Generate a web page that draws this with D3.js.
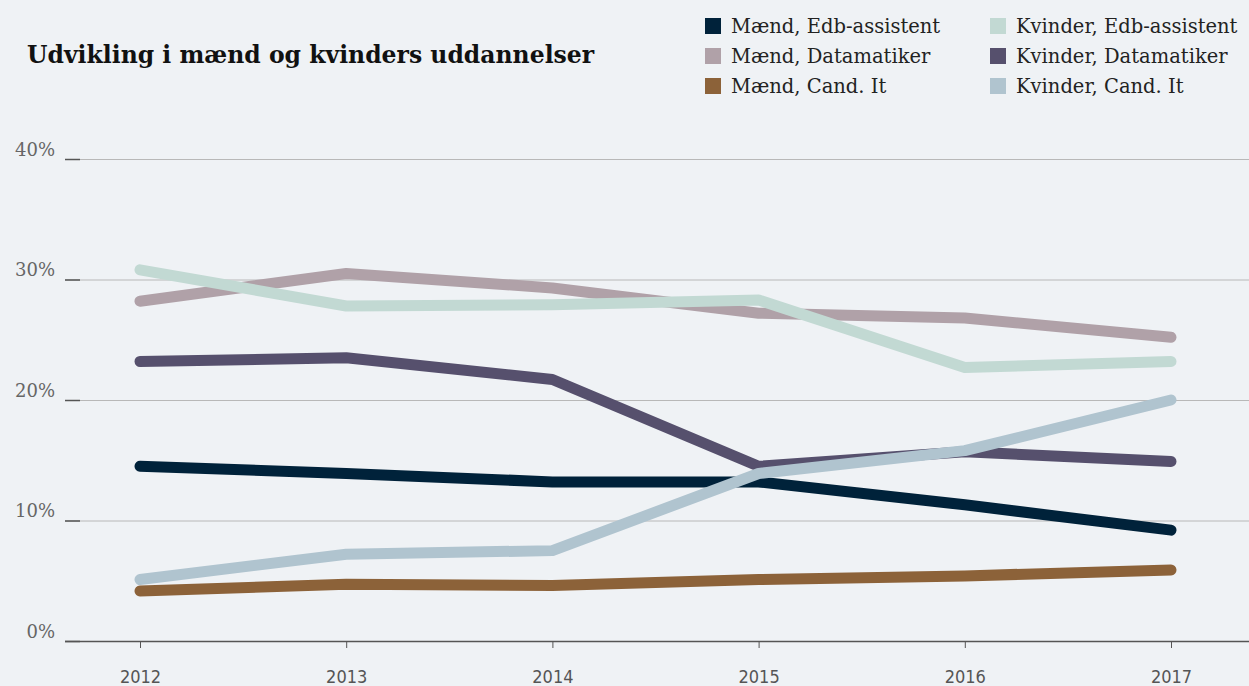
<!DOCTYPE html>
<html>
<head>
<meta charset="utf-8">
<script src="https://cdn.jsdelivr.net/npm/d3@7"></script>
<style>
  html, body { margin: 0; padding: 0; background: #eff2f5; }
  svg { display: block; }
</style>
</head>
<body>
<div id="d3-container"></div>
<script>
const years = [2012, 2013, 2014, 2015, 2016, 2017];
const seriesNames = [
  "Mænd, Edb-assistent", "Mænd, Datamatiker", "Mænd, Cand. It",
  "Kvinder, Edb-assistent", "Kvinder, Datamatiker", "Kvinder, Cand. It"
];
const maendEdb = [14.5, 13.9, 13.2, 13.2, 11.3, 9.2];
const maendDatamatiker = [28.2, 30.5, 29.3, 27.2, 26.8, 25.2];
const maendCandIt = [4.15, 4.7, 4.6, 5.1, 5.4, 5.9];
const kvinderEdb = [30.8, 27.8, 27.9, 28.3, 22.7, 23.2];
const kvinderDatamatiker = [23.2, 23.5, 21.7, 14.5, 15.7, 14.9];
const kvinderCandIt = [5.1, 7.2, 7.5, 13.9, 15.8, 20.0];
const yTicks = [0, 10, 20, 30, 40];
const colors = ["#00223a", "#b0a1a8", "#8c6239", "#c2d9d3", "#56506d", "#b0c4cf"];

const values = [maendEdb, maendDatamatiker, maendCandIt, kvinderEdb, kvinderDatamatiker, kvinderCandIt];
const series = seriesNames.map((name, i) => ({
  name: name,
  color: colors[i],
  points: years.map((yr, j) => ({ year: yr, value: values[i][j] }))
}));

const width = 1249;
const height = 686;
const margin = { top: 159, bottom: 45, left: 65, right: 0 };
const title = "Udvikling i mænd og kvinders uddannelser";
const serif = "'DejaVu Serif', serif";

const svg = d3.select('#d3-container')
  .append('svg')
  .attr('width', width)
  .attr('height', height)
  .style('background', '#eff2f5');

const x = d3.scaleLinear()
  .domain([2012, 2017])
  .range([140, 1171]);

const y = d3.scaleLinear()
  .domain([0, 40])
  .range([height - margin.bottom, margin.top]);

// y axis + gridlines
function yAxis(g) {
  g.attr("transform", `translate(${margin.left}, 0)`)
    .call(d3.axisLeft(y).tickValues(yTicks).tickSize(-(width - margin.left)).tickFormat(d => d + "%"))
    .call(g => g.select(".domain").remove())
    .call(g => g.selectAll(".tick line")
      .attr("stroke", d => d === 0 ? "#555" : "#b8b8b8")
      .attr("stroke-width", d => d === 0 ? 1.5 : 1))
    .call(g => g.selectAll(".tick").append("line")
      .attr("x1", 0).attr("x2", 15)
      .attr("stroke", "#555").attr("stroke-width", 1.5))
    .call(g => g.selectAll(".tick text")
      .attr("x", -10)
      .attr("dy", "-0.2em")
      .attr("fill", "#666")
      .style("font-family", serif)
      .style("font-weight", "300")
      .style("font-size", "18px"));
}

function xAxis(g) {
  g.attr("transform", `translate(0,${height - margin.bottom})`)
    .call(d3.axisBottom(x).tickValues(years).tickFormat(d3.format("d")).tickSize(7))
    .call(g => g.select(".domain").remove())
    .call(g => g.selectAll(".tick line").attr("stroke", "#555"))
    .call(g => g.selectAll(".tick text")
      .attr("y", 29)
      .attr("fill", "#555")
      .style("font-family", "'DejaVu Sans Condensed', sans-serif")
      .style("font-size", "18px"));
}

svg.append("g").call(yAxis);
svg.append("g").call(xAxis);

const line = d3.line()
  .x(d => x(d.year))
  .y(d => y(d.value));

svg.append("g")
  .attr("fill", "none")
  .attr("stroke-width", 11)
  .attr("stroke-linecap", "round")
  .attr("stroke-linejoin", "round")
  .selectAll("path")
  .data(series)
  .join("path")
    .attr("stroke", d => d.color)
    .attr("d", d => line(d.points));

// title
svg.append('text')
  .attr('x', 27)
  .attr('y', 63)
  .attr('fill', '#111')
  .style("font-family", serif)
  .style("font-size", "23.5px")
  .style("font-weight", "bold")
  .text(title);

// legend
const legend = svg.append("g")
  .selectAll("g")
  .data(series)
  .join("g")
    .attr("transform", (d, i) => `translate(${i < 3 ? 705 : 990}, ${26 + (i % 3) * 30})`);

legend.append("rect")
  .attr("x", 0).attr("y", -8)
  .attr("width", 16).attr("height", 16)
  .attr("fill", d => d.color);

legend.append("text")
  .attr("x", 26)
  .attr("y", 7)
  .attr("fill", "#222")
  .style("font-family", serif)
  .style("font-size", "19.5px")
  .text(d => d.name);
</script>
</body>
</html>
